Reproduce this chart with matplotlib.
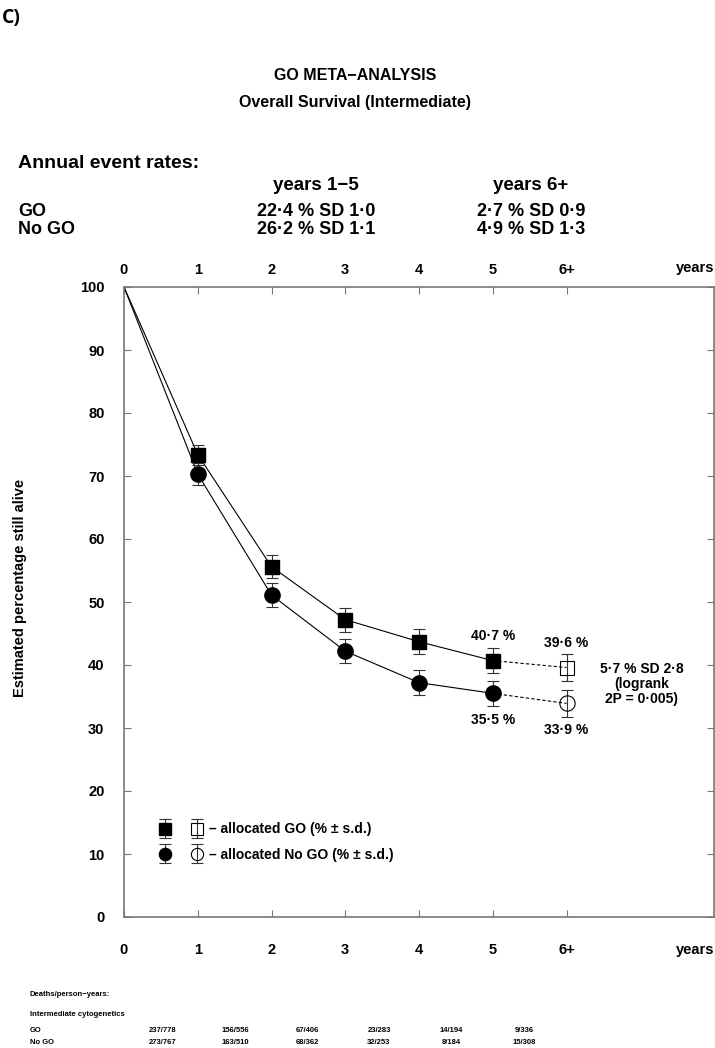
import matplotlib
matplotlib.use('Agg')
import matplotlib.pyplot as plt
from matplotlib.legend_handler import HandlerTuple, HandlerErrorbar
from matplotlib.container import ErrorbarContainer

plt.rcParams['font.family'] = ['Liberation Sans', 'DejaVu Sans']
plt.rcParams['font.weight'] = 'bold'

# data
years = [0, 1, 2, 3, 4, 5, 6]
year_labels = ['0', '1', '2', '3', '4', '5', '6+']
go_surv = [100, 73.4, 55.6, 47.2, 43.7, 40.7, 39.6]
nogo_surv = [100, 70.3, 51.1, 42.2, 37.2, 35.5, 33.9]
go_sd = [0, 1.6, 1.8, 1.9, 2.0, 2.0, 2.1]
nogo_sd = [0, 1.7, 1.9, 1.9, 2.0, 2.0, 2.1]

rates_cols = ['years 1\u22125', 'years 6+']
rates_go = ['22\u00b74 % SD 1\u00b70', '2\u00b77 % SD 0\u00b79']
rates_nogo = ['26\u00b72 % SD 1\u00b71', '4\u00b79 % SD 1\u00b73']

deaths_go = ['237/778', '156/556', '67/406', '23/283', '14/194', '9/336']
deaths_nogo = ['273/767', '163/510', '68/362', '32/253', '8/184', '15/308']

W, H = 715, 1048
fig = plt.figure(figsize=(W / 100, H / 100), dpi=100)


def ftext(x, y, s, **kw):
    # place text with pixel coordinates of the reference
    fig.text(x / W, 1 - y / H, s, **kw)


ftext(2, 18, 'C)', fontsize=14, family=['Open Sans', 'DejaVu Sans'], va='center')
ftext(355, 76, 'GO META\u2212ANALYSIS', fontsize=11.5, ha='center', va='center')
ftext(355, 103, 'Overall Survival (Intermediate)', fontsize=11.5, ha='center', va='center')

ftext(18, 163, 'Annual event rates:', fontsize=14, va='center')
col_x = [316, 531]
for cx, c, a, b in zip(col_x, rates_cols, rates_go, rates_nogo):
    ftext(cx, 185, c, fontsize=13.5, ha='center', va='center')
    ftext(cx, 211, a, fontsize=13, ha='center', va='center')
    ftext(cx, 229, b, fontsize=13, ha='center', va='center')
ftext(18, 211, 'GO', fontsize=13, va='center')
ftext(18, 229, 'No GO', fontsize=13, va='center')

ax = fig.add_axes([124 / W, 1 - 917 / H, 590 / W, 630 / H])
ax.set_xlim(0, 8)
ax.set_ylim(0, 100)

# survival curves: solid to year 5, dashed to 6+
ax.plot(years[:6], go_surv[:6], color='black', lw=0.8, zorder=2)
ax.plot(years[:6], nogo_surv[:6], color='black', lw=0.8, zorder=2)
ax.plot(years[5:], go_surv[5:], color='black', lw=0.8, ls=(0, (3, 2)), zorder=2)
ax.plot(years[5:], nogo_surv[5:], color='black', lw=0.8, ls=(0, (3, 2)), zorder=2)

eb_kw = dict(ecolor='#333333', elinewidth=0.8, capsize=4, capthick=0.8,
             mec='black', ls='none', zorder=3)
go_f = ax.errorbar(years[1:6], go_surv[1:6], yerr=go_sd[1:6], fmt='s', ms=10,
                   mfc='black', **eb_kw)
go_o = ax.errorbar(years[6:], go_surv[6:], yerr=go_sd[6:], fmt='s', ms=10,
                   mfc='none', mew=0.8, **eb_kw)
no_f = ax.errorbar(years[1:6], nogo_surv[1:6], yerr=nogo_sd[1:6], fmt='o', ms=11,
                   mfc='black', **eb_kw)
no_o = ax.errorbar(years[6:], nogo_surv[6:], yerr=nogo_sd[6:], fmt='o', ms=11,
                   mfc='none', mew=0.8, **eb_kw)

fmt_pct = lambda v: f'{v:.1f} %'.replace('.', '\u00b7')
for x in years[5:]:
    ax.annotate(fmt_pct(go_surv[x]), (x, go_surv[x]), xytext=(0, 18),
                textcoords='offset points', ha='center', va='center', fontsize=10)
    ax.annotate(fmt_pct(nogo_surv[x]), (x, nogo_surv[x]), xytext=(0, -19),
                textcoords='offset points', ha='center', va='center', fontsize=10)

ax.text(7.02, 37.0, '5\u00b77 % SD 2\u00b78\n(logrank\n2P = 0\u00b7005)',
        ha='center', va='center', fontsize=10, linespacing=1.1)

leg = ax.legend([(go_f, go_o), (no_f, no_o)],
                ['\u2013 allocated GO (% \u00b1 s.d.)', '\u2013 allocated No GO (% \u00b1 s.d.)'],
                handler_map={tuple: HandlerTuple(ndivide=None, pad=1.6),
                             ErrorbarContainer: HandlerErrorbar(xerr_size=0.0, yerr_size=0.7)},
                loc='upper left', bbox_to_anchor=(0.04, 0.17), frameon=False,
                fontsize=10, handlelength=3.0, handletextpad=0.5, labelspacing=0.8,
                markerscale=0.8)

# axes styling
for s in ax.spines.values():
    s.set_color('#777777')
    s.set_linewidth(1.2)
ax.set_xticks(years)
ax.set_xticklabels(year_labels, fontsize=10.5)
ax.set_yticks(range(0, 101, 10))
ax.set_yticklabels([str(v) for v in range(0, 101, 10)], fontsize=10.5)
ax.tick_params(axis='x', direction='in', length=5, color='#777777', pad=19,
               top=True, bottom=True)
ax.tick_params(axis='y', direction='in', length=5, color='#777777', pad=14,
               left=True, right=True)
top = ax.secondary_xaxis('top')
top.set_xticks(years)
top.set_xticklabels(year_labels, fontsize=10.5)
top.tick_params(direction='in', length=0, pad=7)
top.spines['top'].set_visible(False)

ftext(695, 268, 'years', fontsize=10.5, ha='center', va='center')
ftext(695, 950, 'years', fontsize=10.5, ha='center', va='center')
ftext(20, 588, 'Estimated percentage still alive', fontsize=10.5, rotation=90,
      ha='center', va='center')

# deaths / person-years table
ftext(30, 995, 'Deaths/person\u2212years:', fontsize=5.5, va='center')
ftext(30, 1014, 'Intermediate cytogenetics', fontsize=5.5, va='center')
tab_x = [163, 235, 307, 379, 451, 524]
ftext(30, 1031, 'GO', fontsize=5.5, va='center')
ftext(30, 1042, 'No GO', fontsize=5.5, va='center')
for tx, a, b in zip(tab_x, deaths_go, deaths_nogo):
    ftext(tx, 1031, a, fontsize=5.5, ha='center', va='center')
    ftext(tx, 1042, b, fontsize=5.5, ha='center', va='center')

fig.savefig('out.png', dpi=100)
